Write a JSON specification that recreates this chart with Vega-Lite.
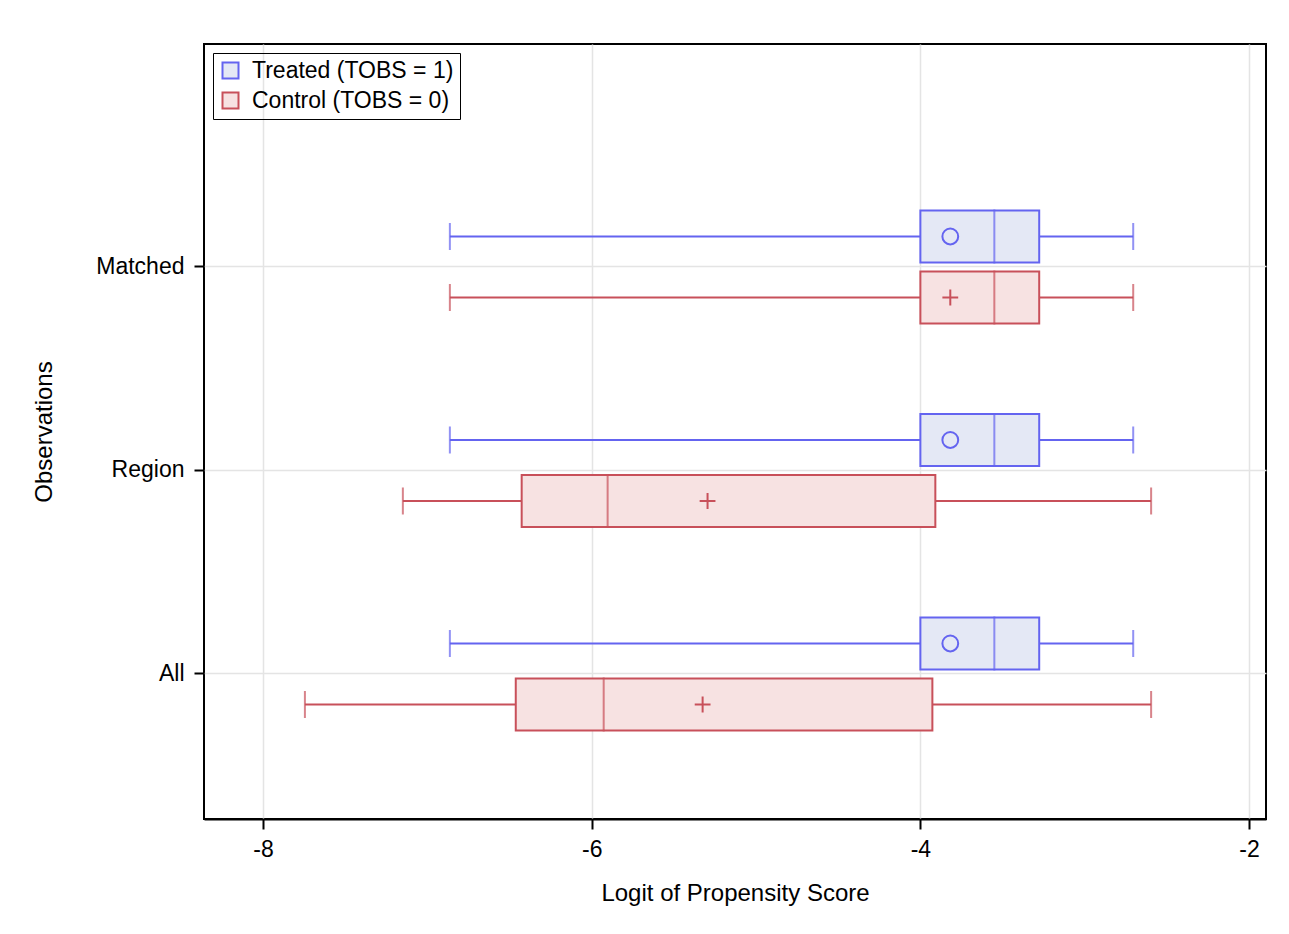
{
  "$schema": "https://vega.github.io/schema/vega-lite/v6.json",
  "autosize": {"type": "none"},
  "padding": {"left": 204, "top": 44, "right": 23, "bottom": 115},
  "width": 1062,
  "height": 775,
  "background": "white",
  "config": {
    "font": "Liberation Sans",
    "view": {"stroke": "#000", "strokeWidth": 2},
    "axis": {
      "domainColor": "#000",
      "domainWidth": 2,
      "tickColor": "#000",
      "tickWidth": 2,
      "tickSize": 10,
      "gridColor": "#e4e4e4",
      "gridWidth": 1.5,
      "labelColor": "#000",
      "labelFontSize": 23,
      "titleColor": "#000",
      "titleFontSize": 24,
      "titleFontWeight": "normal"
    }
  },
  "data": {
    "values": [
      {"obs": "Matched", "group": "Treated (TOBS = 1)", "lo": -6.863, "q1": -4.0, "med": -3.55, "q3": -3.277, "hi": -2.705, "mean": -3.818},
      {"obs": "Matched", "group": "Control (TOBS = 0)", "lo": -6.863, "q1": -4.0, "med": -3.55, "q3": -3.277, "hi": -2.705, "mean": -3.818},
      {"obs": "Region", "group": "Treated (TOBS = 1)", "lo": -6.863, "q1": -4.0, "med": -3.55, "q3": -3.277, "hi": -2.705, "mean": -3.818},
      {"obs": "Region", "group": "Control (TOBS = 0)", "lo": -7.149, "q1": -6.426, "med": -5.903, "q3": -3.909, "hi": -2.596, "mean": -5.295},
      {"obs": "All", "group": "Treated (TOBS = 1)", "lo": -6.863, "q1": -4.0, "med": -3.55, "q3": -3.277, "hi": -2.705, "mean": -3.818},
      {"obs": "All", "group": "Control (TOBS = 0)", "lo": -7.745, "q1": -6.462, "med": -5.927, "q3": -3.927, "hi": -2.596, "mean": -5.325}
    ]
  },
  "encoding": {
    "y": {
      "field": "obs",
      "type": "nominal",
      "title": "Observations",
      "scale": {"domain": ["Matched", "Region", "All"], "paddingInner": 0, "paddingOuter": 0.4042, "align": 0.737},
      "axis": {"grid": true, "domain": false, "labelPadding": 10, "titlePadding": 39}
    },
    "yOffset": {
      "field": "group",
      "type": "nominal",
      "scale": {"domain": ["Treated (TOBS = 1)", "Control (TOBS = 0)"], "paddingInner": 0, "paddingOuter": 0.668}
    }
  },
  "layer": [
    {
      "mark": {"type": "rule", "strokeWidth": 2},
      "encoding": {
        "x": {
          "field": "lo",
          "type": "quantitative",
          "title": "Logit of Propensity Score",
          "scale": {"domain": [-8.359, -1.897], "nice": false, "zero": false},
          "axis": {"values": [-8, -6, -4, -2], "grid": true, "labelExpr": "'' + datum.value", "labelPadding": 9, "titlePadding": 20}
        },
        "x2": {"field": "hi"},
        "stroke": {
          "field": "group",
          "type": "nominal",
          "scale": {"domain": ["Treated (TOBS = 1)", "Control (TOBS = 0)"], "range": ["#6464f0", "#c8505a"]},
          "legend": {
            "title": null,
            "orient": "none",
            "legendX": 9,
            "legendY": 9,
            "strokeColor": "#000",
            "padding": 6,
            "symbolType": "square",
            "symbolSize": 256,
            "symbolStrokeWidth": 2,
            "labelFontSize": 23,
            "labelColor": "#000",
            "labelLimit": 400,
            "rowPadding": 5,
            "labelOffset": 10,
            "encode": {"symbols": {"update": {"fill": {"scale": "fill", "field": "value"}, "stroke": {"scale": "stroke", "field": "value"}, "opacity": {"value": 1}}}}
          }
        }
      }
    },
    {
      "mark": {"type": "tick", "orient": "vertical", "size": 25, "thickness": 0.01, "filled": false, "strokeWidth": 2},
      "encoding": {
        "x": {"field": "lo", "type": "quantitative"},
        "stroke": {"field": "group", "type": "nominal"}
      }
    },
    {
      "mark": {"type": "tick", "orient": "vertical", "size": 25, "thickness": 0.01, "filled": false, "strokeWidth": 2},
      "encoding": {
        "x": {"field": "hi", "type": "quantitative"},
        "stroke": {"field": "group", "type": "nominal"}
      }
    },
    {
      "mark": {"type": "bar", "height": 52, "strokeWidth": 2},
      "encoding": {
        "x": {"field": "q1", "type": "quantitative"},
        "x2": {"field": "q3"},
        "fill": {
          "field": "group",
          "type": "nominal",
          "scale": {"domain": ["Treated (TOBS = 1)", "Control (TOBS = 0)"], "range": ["#e4e8f5", "#f7e2e2"]},
          "legend": {
            "title": null,
            "orient": "none",
            "legendX": 9,
            "legendY": 9,
            "strokeColor": "#000",
            "padding": 6,
            "symbolType": "square",
            "symbolSize": 256,
            "symbolStrokeWidth": 2,
            "labelFontSize": 23,
            "labelColor": "#000",
            "labelLimit": 400,
            "rowPadding": 5,
            "labelOffset": 10,
            "encode": {"symbols": {"update": {"fill": {"scale": "fill", "field": "value"}, "stroke": {"scale": "stroke", "field": "value"}, "opacity": {"value": 1}}}}
          }
        },
        "stroke": {"field": "group", "type": "nominal"}
      }
    },
    {
      "mark": {"type": "tick", "orient": "vertical", "size": 52, "thickness": 0.01, "filled": false, "strokeWidth": 2},
      "encoding": {
        "x": {"field": "med", "type": "quantitative"},
        "stroke": {"field": "group", "type": "nominal"}
      }
    },
    {
      "transform": [{"filter": "datum.group === 'Treated (TOBS = 1)'"}],
      "mark": {"type": "point", "shape": "circle", "filled": false, "size": 250, "strokeWidth": 2, "opacity": 1},
      "encoding": {
        "x": {"field": "mean", "type": "quantitative"},
        "stroke": {"field": "group", "type": "nominal"}
      }
    },
    {
      "transform": [{"filter": "datum.group === 'Control (TOBS = 0)'"}],
      "mark": {"type": "point", "shape": "M-1,0H1M0,-1V1", "filled": false, "size": 250, "strokeWidth": 2, "opacity": 1},
      "encoding": {
        "x": {"field": "mean", "type": "quantitative"},
        "stroke": {"field": "group", "type": "nominal"}
      }
    }
  ]
}
